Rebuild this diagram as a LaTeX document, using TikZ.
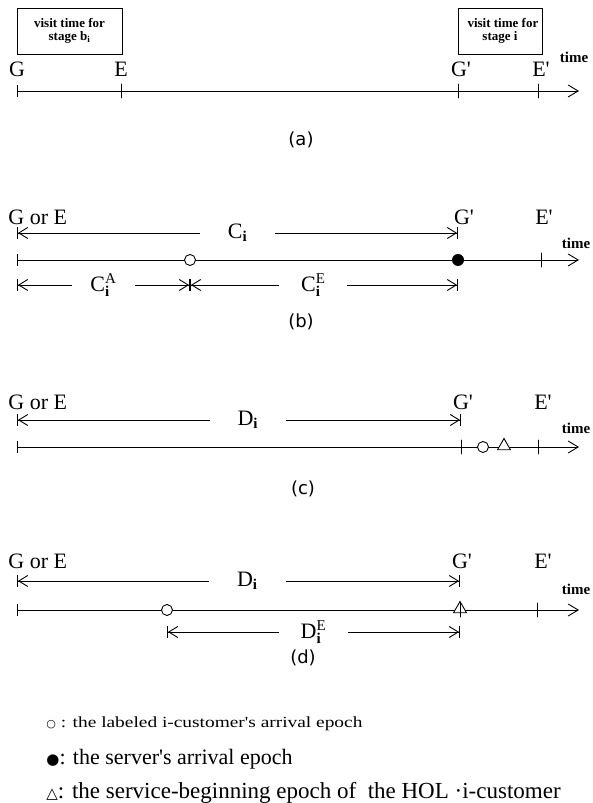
\documentclass[tikz,border=0pt]{standalone}
\usepackage{fontspec}
\setmainfont{Liberation Serif}
\newfontfamily\capsans{DejaVu Sans}
\newfontfamily\symfont{DejaVu Sans}
\newfontfamily\widefont[FakeStretch=1.25]{Liberation Serif}
\usetikzlibrary{arrows.meta, shapes.geometric, positioning}
\newcommand*\fsz[1]{\fontsize{#1}{#1}\selectfont}
\newcommand*\supsub[3]{#1$^{\mbox{\fsz{15}#2}}_{\mbox{\fsz{15}\bfseries #3}}$}
\newcommand*\pr{\textquotesingle}

\begin{document}
\begin{tikzpicture}[
        x=1pt, y=1pt, line width=0.9pt, line cap=round,
        barb/.tip={Straight Barb[length=9pt, width=11pt]},
        axisline/.style={{Bar[width=12pt]}-{Straight Barb[length=10pt, width=12pt]}},
        dimline/.style={{Bar[width=12pt]barb[]}-{barb[]Bar[width=12pt]}},
        pointlabel/.style={font=\fsz{22}, inner sep=0pt},
        timelabel/.style={font=\bfseries\fsz{15}, inner sep=0pt},
        gaplabel/.style={fill=white, font=\fsz{22}, inner ysep=0pt},
        caption/.style={font=\capsans\fsz{18}, inner sep=0pt},
        visitbox/.style={draw, align=center, inner sep=0pt, font=\bfseries\fsz{13}},
        opendot/.style={circle, draw, fill=white, minimum size=11pt, inner sep=0pt},
        fulldot/.style={circle, fill, minimum size=12pt, inner sep=0pt},
        tri/.style={regular polygon, regular polygon sides=3, draw, fill=white, minimum size=15pt, inner sep=0pt}
    ]
    \useasboundingbox (0,0) rectangle (593,803);

    % (a)
    \coordinate (aS) at (17,712);
    \coordinate (aE) at (121,712);
    \coordinate (aG) at (458,712);
    \coordinate (aF) at (538,712);
    \coordinate (aT) at (579,712);
    \draw[axisline] (aS) -- (aT);
    \foreach \p in {aE,aG,aF} \draw (\p) +(0,-7) -- +(0,7);
    \node[visitbox, minimum width=105pt, minimum height=46pt] (box1) at (69.5,772) {visit time for\\stage b\textsubscript{i}};
    \node[visitbox, minimum width=84pt, minimum height=46pt] (box2) at (500,772) {visit time fo\rlap{r}\\stage i};
    \node[pointlabel] (aGl) at (17,734) {G};
    \node[pointlabel] (aEl) at (121,734) {E};
    \node[pointlabel] (aGpl) at (461,734) {G\pr};
    \node[pointlabel] (aFl) at (541,734) {E\pr};
    \node[timelabel] (aTime) at (574,746) {time};
    \node[caption] (capA) at (301,663) {(a)};

    % (b)
    \coordinate (bS) at (17,543);
    \coordinate (bF) at (541,543);
    \coordinate (bT) at (579,543);
    \draw[axisline] (bS) -- (bT);
    \draw (bF) +(0,-7) -- +(0,7);
    \node[opendot] (bArr) at (190,543) {};
    \node[fulldot] (bSrv) at (458,543) {};
    \coordinate (bTL) at (17,570);
    \coordinate (bTR) at (458,570);
    \coordinate (bBL) at (17,518);
    \coordinate (bBM) at (190,518);
    \coordinate (bBR) at (458,518);
    \draw[dimline] (bTL) -- (bTR) node[midway, gaplabel, inner xsep=28pt] {C$_{\mbox{\fsz{15}\bfseries i}}$};
    \draw[dimline] (bBL) -- (bBM) node[midway, gaplabel, inner xsep=18pt] {\supsub{C}{A}{i}};
    \draw[dimline] (bBM) -- (bBR) node[pos=0.46, gaplabel, inner xsep=22pt] {\supsub{C}{E}{i}};
    \node[pointlabel, anchor=west] (bGE) at (8,586) {G or E};
    \node[pointlabel] (bGpl) at (464,586) {G\pr};
    \node[pointlabel] (bFl) at (544,586) {E\pr};
    \node[timelabel] (bTime) at (576,560) {time};
    \node[caption] (capB) at (301,481) {(b)};

    % (c)
    \coordinate (cS) at (17,356);
    \coordinate (cG) at (461,356);
    \coordinate (cF) at (538,356);
    \coordinate (cT) at (579,356);
    \draw[axisline] (cS) -- (cT);
    \foreach \p in {cG,cF} \draw (\p) +(0,-7) -- +(0,7);
    \node[opendot] (cArr) at (483,356) {};
    \node[tri] (cBeg) at (504,357) {};
    \coordinate (cTL) at (17,383);
    \coordinate (cTR) at (461,383);
    \draw[dimline] (cTL) -- (cTR) node[pos=0.52, gaplabel, inner xsep=28pt] {D$_{\mbox{\fsz{15}\bfseries i}}$};
    \node[pointlabel, anchor=west] (cGE) at (8,401) {G or E};
    \node[pointlabel] (cGpl) at (463,401) {G\pr};
    \node[pointlabel] (cFl) at (543,401) {E\pr};
    \node[timelabel] (cTime) at (576,375) {time};
    \node[caption] (capC) at (303,314) {(c)};

    % (d)
    \coordinate (dS) at (17,193);
    \coordinate (dG) at (460,193);
    \coordinate (dF) at (537,193);
    \coordinate (dT) at (579,193);
    \draw[axisline] (dS) -- (dT);
    \node[opendot] (dArr) at (167,193) {};
    \node[tri] (dBeg) at (460,194) {};
    \foreach \p in {dG,dF} \draw (\p) +(0,-7) -- +(0,7);
    \coordinate (dTL) at (17,222);
    \coordinate (dTR) at (460,222);
    \coordinate (dBL) at (167,171);
    \coordinate (dBR) at (460,171);
    \draw[dimline] (dTL) -- (dTR) node[pos=0.52, gaplabel, inner xsep=28pt] {D$_{\mbox{\fsz{15}\bfseries i}}$};
    \draw[dimline] (dBL) -- (dBR) node[midway, gaplabel, inner xsep=22pt] {\raisebox{-9pt}{\supsub{D}{E}{i}}};
    \node[pointlabel, anchor=west] (dGE) at (8,242) {G or E};
    \node[pointlabel] (dGpl) at (462,242) {G\pr};
    \node[pointlabel] (dFl) at (543,242) {E\pr};
    \node[timelabel] (dTime) at (576,214) {time};
    \node[caption] (capD) at (303,145) {(d)};

    % legend
    \node[anchor=west, inner sep=0pt, font=\widefont\fsz{15.5}] (key1) at (46,79) {{\symfont\fsz{11}○} : the labeled i-customer's arrival epoch};
    \node[anchor=west, inner sep=0pt, font=\fsz{22}] (key2) at (46,44) {{\symfont\fsz{15}●}: the server\pr s arrival epoch};
    \node[anchor=west, inner sep=0pt, font=\fsz{23}] (key3) at (46,10) {{\symfont\fsz{15}△}: the service-beginning epoch of\ \ the HOL ·i-customer};
\end{tikzpicture}
\end{document}
